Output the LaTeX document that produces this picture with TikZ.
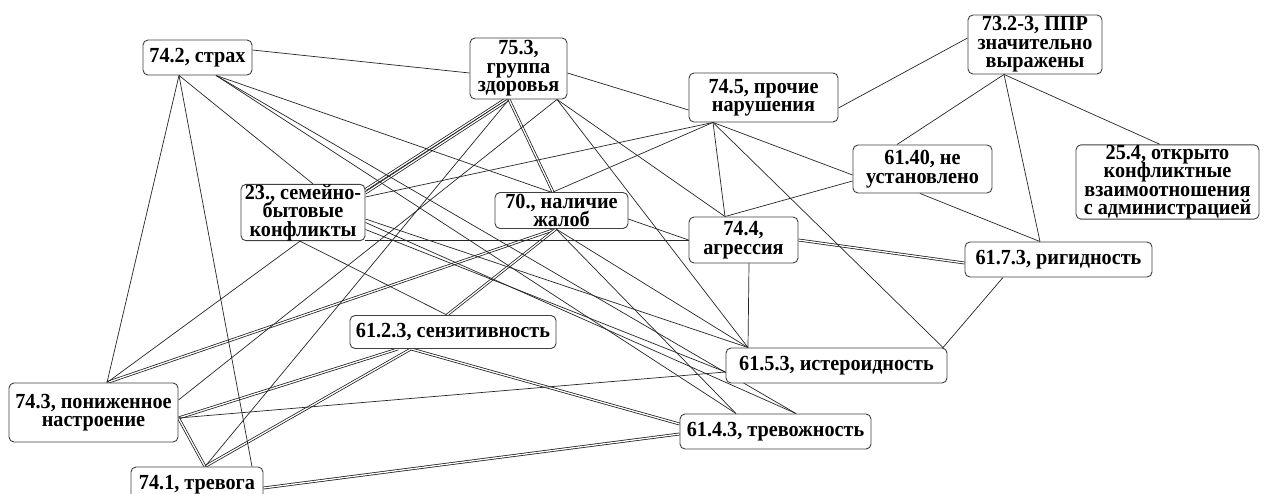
\documentclass[tikz,border=0pt]{standalone}
\usepackage{fontspec}
\setmainfont{Liberation Serif}[FakeStretch=0.94]
\usetikzlibrary{backgrounds}

\begin{document}
\begin{tikzpicture}[x=1pt,y=-1pt,
  box/.style={draw=black!75, line width=0.9pt, rounded corners=5pt, fill=white,
    inner sep=0pt, align=center,
    font={\bfseries\fontsize{21.5}{18.5}\selectfont\lineskiplimit=-30pt\lineskip=0pt}},
  link/.style={draw=black!85, line width=0.7pt},
  dlink/.style={draw=black!90, line width=0.75pt, double=white, double distance=1.3pt},
]
\useasboundingbox (0,0) rectangle (1266,494);

% factor boxes
\node[box, minimum width=109pt, minimum height=35pt] (A) at (197.5,57.5) {74.2, страх};
\node[box, minimum width=97pt,  minimum height=61pt] (B) at (518.5,68.5) {75.3,\\группа\\здоровья};
\node[box, minimum width=149pt, minimum height=49pt] (C) at (763.5,97.5) {74.5, прочие\\нарушения};
\node[box, minimum width=134pt, minimum height=59pt] (D) at (1035,44.5) {73.2-3, ППР\\значительно\\выражены};
\node[box, minimum width=139pt, minimum height=48pt] (E) at (922.5,169) {61.40, не\\установлено};
\node[box, minimum width=183pt, minimum height=72pt] (F) at (1167.5,182) {25.4, открыто\\конфликтные\\взаимоотношения\\с администрацией};
\node[box, minimum width=124pt, minimum height=55pt] (G) at (303,212.5) {23., семейно-\\бытовые\\конфликты};
\node[box, minimum width=133pt, minimum height=36pt] (H) at (561.5,210.5) {70., наличие\\жалоб};
\node[box, minimum width=109pt, minimum height=46pt] (I) at (743.5,240) {74.4,\\агрессия};
\node[box, minimum width=187pt, minimum height=35pt] (J) at (1058.5,259.5) {61.7.3, ригидность};
\node[box, minimum width=206pt, minimum height=33pt] (K) at (453,332) {61.2.3, сензитивность};
\node[box, minimum width=221pt, minimum height=35pt] (L) at (836.5,365.5) {61.5.3, истероидность};
\node[box, minimum width=169pt, minimum height=59pt] (M) at (93.5,412.5) {74.3, пониженное\\настроение};
\node[box, minimum width=191pt, minimum height=35pt] (N) at (775.5,431.5) {61.4.3, тревожность};
\node[box, minimum width=132pt, minimum height=35pt] (O) at (197,484.5) {74.1, тревога};

% connection ports on the boxes
\coordinate (A-s1) at ([xshift=-18.5pt]A.south);
\coordinate (A-s2) at ([xshift=18.5pt]A.south);
\coordinate (A-e)  at ([yshift=7.5pt]A.east);
\coordinate (B-w)  at ([yshift=-4.5pt]B.west);
\coordinate (B-e)  at ([yshift=-4.5pt]B.east);
\coordinate (B-s1) at ([xshift=-13.5pt]B.south);
\coordinate (B-s2) at ([xshift=-9.5pt]B.south);
\coordinate (B-s3) at ([xshift=38.5pt]B.south);
\coordinate (C-w)  at ([yshift=-12.5pt]C.west);
\coordinate (C-e)  at ([yshift=-10.5pt]C.east);
\coordinate (C-s)  at ([xshift=-50.5pt]C.south);
\coordinate (D-w)  at ([yshift=6.5pt]D.west);
\coordinate (D-s)  at ([xshift=-31pt]D.south);
\coordinate (E-n)  at ([xshift=-25.5pt]E.north);
\coordinate (E-w1) at ([yshift=-6pt]E.west);
\coordinate (E-w2) at ([yshift=-12pt]E.west);
\coordinate (E-s)  at ([xshift=-2.5pt]E.south);
\coordinate (F-n)  at ([xshift=-7.5pt]F.north);
\coordinate (G-n)  at ([xshift=10pt]G.north);
\coordinate (G-e1) at ([yshift=23pt]G.east);
\coordinate (G-e2) at ([yshift=19.5pt]G.east);
\coordinate (G-e3) at ([yshift=15.5pt]G.east);
\coordinate (G-e4) at ([yshift=-3.5pt]G.east);
\coordinate (G-e5) at ([yshift=-6.5pt]G.east);
\coordinate (G-e6) at ([yshift=-10pt]G.east);
\coordinate (G-e7) at ([yshift=-17pt]G.east);
\coordinate (G-e8) at ([yshift=-27.5pt]G.east);
\coordinate (G-s)  at ([xshift=-3pt]G.south);
\coordinate (H-n)  at ([xshift=-8.5pt]H.north);
\coordinate (H-w)  at ([yshift=-5.5pt]H.west);
\coordinate (H-s)  at ([xshift=-5.5pt]H.south);
\coordinate (I-w)  at (I.west);
\coordinate (I-n)  at ([xshift=-18.5pt]I.north);
\coordinate (I-e)  at (I.east);
\coordinate (I-s)  at ([xshift=5.5pt]I.south);
\coordinate (J-n)  at ([xshift=-18.5pt]J.north);
\coordinate (J-w)  at ([yshift=-3.5pt]J.west);
\coordinate (J-s)  at ([xshift=-55.5pt]J.south);
\coordinate (K-n)  at ([xshift=-6pt]K.north);
\coordinate (K-s1) at ([xshift=-55pt]K.south);
\coordinate (K-s2) at ([xshift=-42pt]K.south);
\coordinate (L-n)  at ([xshift=-88.5pt]L.north);
\coordinate (L-w)  at ([yshift=-6.5pt]L.west);
\coordinate (L-ne) at ([xshift=106.5pt]L.north);
\coordinate (M-n)  at ([xshift=13.5pt]M.north);
\coordinate (M-e1) at ([yshift=12.5pt]M.east);
\coordinate (M-e2) at ([yshift=-5.5pt]M.east);
\coordinate (N-n1) at ([xshift=-39.5pt]N.north);
\coordinate (N-n2) at ([xshift=20.5pt]N.north);
\coordinate (N-w1) at ([yshift=7.5pt]N.west);
\coordinate (N-w2) at ([yshift=-2.5pt]N.west);
\coordinate (O-n1) at ([xshift=8pt]O.north);
\coordinate (O-n2) at ([xshift=55pt]O.north);
\coordinate (O-e)  at ([yshift=-3.5pt]O.east);

\begin{scope}[on background layer]
  \fill[white] (0,0) rectangle (1266,494);
  % double links
  \draw[dlink] (B-s1) -- (G-e1);
  \draw[dlink] (B-s2) -- (G-e2);
  \draw[dlink] (B-s2) -- (H-n);
  \draw[dlink] (G-e4) -- (H-w);
  \draw[dlink] (H-s) -- (M-n);
  \draw[dlink] (H-s) -- (K-n);
  \draw[dlink] (I-e) -- (J-w);
  \draw[dlink] (K-s1) -- (M-e2);
  \draw[dlink] (K-s2) -- (O-n1);
  \draw[dlink] (K-s2) -- (N-w1);
  \draw[dlink] (M-e2) -- (O-n1);
  \draw[dlink] (O-e) -- (N-w2);
  % single links
  \draw[link] (A-e) -- (B-w);
  \draw[link] (A-s1) -- (M-n);
  \draw[link] (A-s1) -- (O-n2);
  \draw[link] (A-s1) -- (G-n);
  \draw[link] (A-s2) -- (I-w);
  \draw[link] (A-s2) -- (N-n1);
  \draw[link] (A-s2) -- (N-n2);
  \draw[link] (B-e) -- (C-w);
  \draw[link] (B-s2) -- (O-n1);
  \draw[link] (B-s3) -- (M-e1);
  \draw[link] (B-s3) -- (I-n);
  \draw[link] (B-s3) -- (L-n);
  \draw[link] (C-e) -- (D-w);
  \draw[link] (C-s) -- (G-e3);
  \draw[link] (C-s) -- (H-n);
  \draw[link] (C-s) -- (I-n);
  \draw[link] (C-s) -- (E-w1);
  \draw[link] (C-s) -- (L-ne);
  \draw[link] (D-s) -- (E-n);
  \draw[link] (D-s) -- (J-n);
  \draw[link] (D-s) -- (F-n);
  \draw[link] (E-w2) -- (I-n);
  \draw[link] (E-s) -- (J-n);
  \draw[link] (J-s) -- (L-ne);
  \draw[link] (G-s) -- (K-n);
  \draw[link] (G-s) -- (M-n);
  \draw[link] (G-e8) -- (I-w);
  \draw[link] (G-e5) -- (L-n);
  \draw[link] (G-e6) -- (N-n2);
  \draw[link] (G-e7) -- (L-w);
  \draw[link] (H-s) -- (L-n);
  \draw[link] (H-s) -- (N-n1);
  \draw[link] (I-s) -- (L-n);
  \draw[link] (M-e2) -- (L-w);
\end{scope}
\end{tikzpicture}
\end{document}
